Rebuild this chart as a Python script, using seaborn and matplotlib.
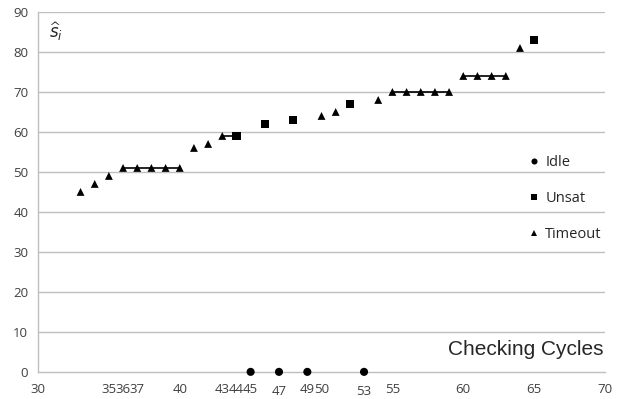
import matplotlib
matplotlib.use("Agg")
import matplotlib.pyplot as plt
import pandas as pd
import seaborn as sns

# valeurs
idle_x = [45, 47, 49, 53]
idle_y = [0, 0, 0, 0]

unsat_x = [44, 46, 48, 52, 65]
unsat_y = [59, 62, 63, 67, 83]

timeout_x = [33, 34, 35, 36, 37, 38, 39, 40, 41, 42, 43, 50, 51, 54,
             55, 56, 57, 58, 59, 60, 61, 62, 63, 64]
timeout_y = [45, 47, 49, 51, 51, 51, 51, 51, 56, 57, 59, 64, 65, 68,
             70, 70, 70, 70, 70, 74, 74, 74, 74, 81]

# paliers reliés par un trait
plateau_x = [(36, 40), (43, 44), (55, 59), (60, 63)]
plateau_y = [51, 59, 70, 74]

major_ticks = [30, 35, 40, 45, 50, 55, 60, 65, 70]
minor_ticks = [36, 37, 43, 44, 47, 49, 53]

df = pd.DataFrame({
    'x': idle_x + unsat_x + timeout_x,
    'y': idle_y + unsat_y + timeout_y,
    'kind': ['Idle'] * len(idle_x) + ['Unsat'] * len(unsat_x) + ['Timeout'] * len(timeout_x),
})

sns.set_style('white')
plt.rcParams['font.family'] = ['Open Sans', 'DejaVu Sans']

fig = plt.figure(figsize=(6.18, 3.99), dpi=100)
ax = fig.add_axes([0.0615, 0.068, 0.9175, 0.902])

grid_col = '#bfbfbf'
for v in range(10, 100, 10):
    ax.axhline(v, color=grid_col, lw=1, zorder=0)

for (x0, x1), yv in zip(plateau_x, plateau_y):
    ax.plot([x0, x1], [yv, yv], color='black', lw=1.2, zorder=2)

sns.scatterplot(data=df, x='x', y='y', style='kind', hue='kind',
                palette={'Idle': 'black', 'Unsat': 'black', 'Timeout': 'black'},
                markers={'Idle': 'o', 'Unsat': 's', 'Timeout': '^'},
                size='kind', sizes={'Idle': 34, 'Unsat': 34, 'Timeout': 32},
                edgecolor='black', linewidth=0, ax=ax, zorder=3, clip_on=False)

ax.set_xlim(30, 70)
ax.set_ylim(0, 90)
ax.set_yticks(range(0, 100, 10))
ax.set_xticks(major_ticks)
ax.set_xticks(minor_ticks, labels=[str(t) for t in minor_ticks], minor=True)
ax.tick_params(axis='x', which='major', length=4, color=grid_col, labelsize=9.5,
               labelcolor='#404040', pad=4)
ax.tick_params(axis='x', which='minor', length=0, labelsize=9.5,
               labelcolor='#404040', pad=8)
ax.tick_params(axis='y', length=4, color=grid_col, labelsize=9.5,
               labelcolor='#404040', pad=3)
for lab in ax.get_xticklabels(minor=True):
    if lab.get_text() in ('47', '53'):
        lab.set_y(-0.006)

for side in ['top', 'right']:
    ax.spines[side].set_visible(False)
for side in ['left', 'bottom']:
    ax.spines[side].set_color(grid_col)
    ax.spines[side].set_linewidth(1)

ax.set_xlabel('')
ax.set_ylabel('')

ax.text(0.02, 0.945, r'$\widehat{s}_i$', transform=ax.transAxes, fontsize=12,
        ha='left', va='center')
ax.text(0.997, 0.035, 'Checking Cycles', transform=ax.transAxes,
        fontsize=15, family='Liberation Sans', ha='right', va='bottom')

handles, labels = ax.get_legend_handles_labels()
order = ['Idle', 'Unsat', 'Timeout']
hmap = dict(zip(labels, handles))
leg = ax.legend([hmap[k] for k in order], order, loc='upper left',
                bbox_to_anchor=(0.825, 0.64), frameon=False, fontsize=10.5,
                labelspacing=1.45, handletextpad=-0.2, markerscale=0.75)

fig.savefig('out.png', dpi=100)
